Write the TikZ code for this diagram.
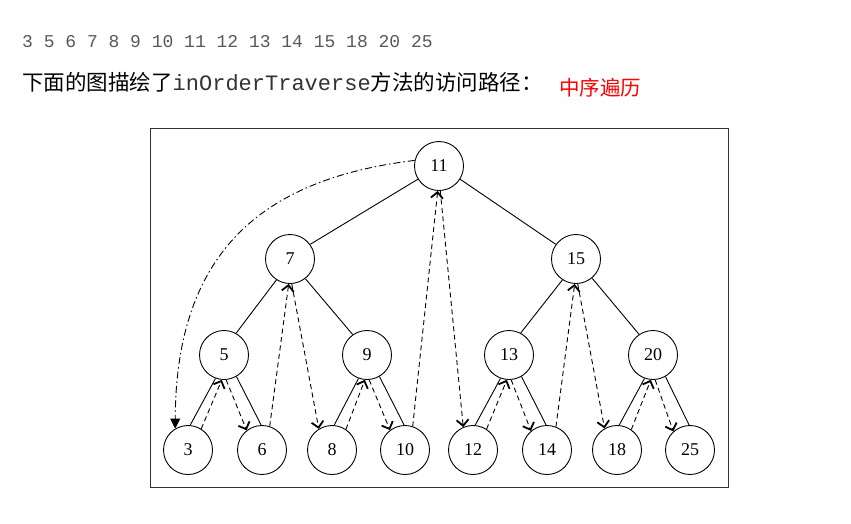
\documentclass[tikz,border=0pt]{standalone}
\usepackage{fontspec}
\setmainfont{Liberation Serif}
\newfontfamily\cjk{Noto Sans CJK SC}
\newfontfamily\monofnt{Liberation Mono}
\usetikzlibrary{arrows.meta}
\begin{document}
\begin{tikzpicture}[x=1pt,y=-1pt,
  tnode/.style={circle,draw,line width=0.9pt,minimum size=49pt,inner sep=0pt,font=\fontsize{18}{18}\selectfont},
  treeline/.style={line width=0.9pt},
  trav/.style={line width=0.9pt,dash pattern=on 5pt off 3.5pt,-{Straight Barb[length=6pt,width=12pt,line width=1.8pt]}},
  dashdotline/.style={line width=0.9pt,dash pattern=on 7pt off 3pt on 1.5pt off 3pt,-{Triangle[length=10pt,width=10pt]}},
  frame/.style={draw=black!80,line width=1.3pt},
  txt/.style={anchor=base west,inner sep=0pt}]
\useasboundingbox (0,0) rectangle (851,523);
\fill[white] (0,0) rectangle (851,523);

% header text
\node[txt,text=black!65,font=\monofnt\fontsize{18}{20}\selectfont] (seq) at (22,47) {3 5 6 7 8 9 10 11 12 13 14 15 18 20 25};
\node[txt] (desc) at (22,90) {{\cjk\fontsize{21.5}{24}\selectfont 下面的图描绘了}{\monofnt\fontsize{22}{24}\selectfont\color{black!80}inOrderTraverse}{\cjk\fontsize{21.5}{24}\selectfont 方法的访问路径：}};
\node[txt,text=red,font=\cjk\fontsize{20.5}{24}\selectfont] (note) at (559,95) {中序遍历};

% frame
\node[frame,rectangle,minimum width=578pt,minimum height=359pt,inner sep=0pt,anchor=north west] (box) at (150,128) {};

% nodes
\node[tnode] (n11) at (439,166) {11};
\node[tnode] (n7) at (290,259) {7};
\node[tnode] (n15) at (576,259) {15};
\node[tnode] (n5) at (224,355) {5};
\node[tnode] (n9) at (367,355) {9};
\node[tnode] (n13) at (509,355) {13};
\node[tnode] (n20) at (653,355) {20};
\node[tnode] (n3) at (188,450) {3};
\node[tnode] (n6) at (262,450) {6};
\node[tnode] (n8) at (332,450) {8};
\node[tnode] (n10) at (405,450) {10};
\node[tnode] (n12) at (473,450) {12};
\node[tnode] (n14) at (547,450) {14};
\node[tnode] (n18) at (617,450) {18};
\node[tnode] (n25) at (690,450) {25};

% tree edges
\draw[treeline] (n11.-148) -- (n7.36);
\draw[treeline] (n11.-32) -- (n15.144);
\draw[treeline] (n7.-123) -- (n5.61);
\draw[treeline] (n7.-52) -- (n9.125);
\draw[treeline] (n15.-123) -- (n13.62);
\draw[treeline] (n15.-50) -- (n20.124);
\foreach \p/\l/\r in {n5/n3/n6, n9/n8/n10, n13/n12/n14, n20/n18/n25}{
  \draw[treeline] (\p.-110) -- (\l.85);
  \draw[treeline] (\p.-60) -- (\r.92);
}

% traversal path
\draw[dashdotline] (n11.167) .. controls (270,178) and (176,245) .. (n3.121);
\draw[trav] (n3.58) -- (n5.-95);
\draw[trav] (n5.-85) -- (n6.128);
\draw[trav] (n6.72) -- (n7.-93);
\draw[trav] (n7.-86) -- (n8.122);
\draw[trav] (n8.56) -- (n9.-95);
\draw[trav] (n9.-85) -- (n10.127);
\draw[trav] (n10.72) -- (n11.-93);
\draw[trav] (n11.-87) -- (n12.113);
\draw[trav] (n12.57) -- (n13.-95);
\draw[trav] (n13.-85) -- (n14.130);
\draw[trav] (n14.69) -- (n15.-93);
\draw[trav] (n15.-86) -- (n18.120);
\draw[trav] (n18.55) -- (n20.-95);
\draw[trav] (n20.-85) -- (n25.132);
\end{tikzpicture}
\end{document}
